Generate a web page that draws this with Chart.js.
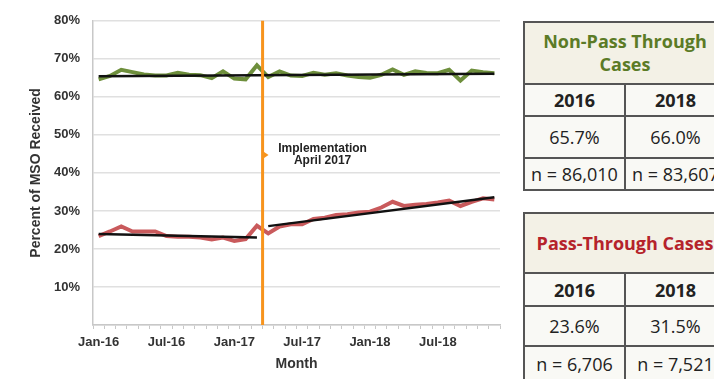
<!DOCTYPE html>
<html>
<head>
<meta charset="utf-8">
<script src="https://cdn.jsdelivr.net/npm/chart.js@4"></script>
<style>
  body { margin: 0; background: #fff; width: 714px; height: 379px; overflow: hidden; position: relative; font-family: "Open Sans", sans-serif; }
  #wrap { position: absolute; left: 0; top: 0; width: 510px; height: 379px; }
  table { position: absolute; left: 523px; border-collapse: collapse; width: 204px; table-layout: fixed; }
  td { border: 2px solid #555; text-align: center; font-size: 18px; color: #222; background: #f9f9f5; padding: 0; }
  td.head { background: #f3f1e6; font-weight: 700; line-height: 23px; }
  td.yr { font-weight: 700; }
  #t1 { top: 21px; }
  #t2 { top: 212px; }
  #t1 .head { color: #5b7b26; height: 60px; }
  #t2 .head { color: #b5232b; height: 58px; }
</style>
</head>
<body>
<div id="wrap"><canvas id="grafico"></canvas></div>

<table id="t1">
  <tr><td class="head" colspan="2">Non-Pass Through<br>Cases</td></tr>
  <tr style="height:32px"><td class="yr">2016</td><td class="yr">2018</td></tr>
  <tr style="height:42px"><td>65.7%</td><td>66.0%</td></tr>
  <tr style="height:32px"><td>n = 86,010</td><td>n = 83,607</td></tr>
</table>

<table id="t2">
  <tr><td class="head" colspan="2">Pass-Through Cases</td></tr>
  <tr style="height:33px"><td class="yr">2016</td><td class="yr">2018</td></tr>
  <tr style="height:40px"><td>23.6%</td><td>31.5%</td></tr>
  <tr style="height:36px"><td>n = 6,706</td><td>n = 7,521</td></tr>
</table>

<script>
const months = [
  "Jan-16", "Feb-16", "Mar-16", "Apr-16", "May-16", "Jun-16", "Jul-16", "Aug-16", "Sep-16", "Oct-16", "Nov-16", "Dec-16",
  "Jan-17", "Feb-17", "Mar-17", "Apr-17", "May-17", "Jun-17", "Jul-17", "Aug-17", "Sep-17", "Oct-17", "Nov-17", "Dec-17",
  "Jan-18", "Feb-18", "Mar-18", "Apr-18", "May-18", "Jun-18", "Jul-18", "Aug-18", "Sep-18", "Oct-18", "Nov-18", "Dec-18",
];
const shownLabels = ["Jan-16", "Jul-16", "Jan-17", "Jul-17", "Jan-18", "Jul-18"];

// non-pass through (green)
const nonPass = [
  64.6, 65.5, 67.1, 66.5, 65.9, 65.6, 65.6, 66.3, 65.8, 65.7, 64.9, 66.7,
  64.8, 64.6, 68.3, 65.2, 66.7, 65.6, 65.5, 66.3, 65.8, 66.2, 65.6, 65.2,
  65.0, 65.8, 67.2, 65.8, 66.7, 66.3, 66.2, 67.1, 64.3, 66.9, 66.5, 66.2,
];
// pass-through (red)
const passThrough = [
  23.4, 24.6, 25.9, 24.6, 24.6, 24.6, 23.4, 23.2, 23.2, 23.0, 22.5, 23.0,
  22.1, 22.6, 26.1, 24.1, 25.9, 26.5, 26.5, 27.9, 28.2, 28.9, 29.1, 29.6,
  29.8, 30.9, 32.4, 31.3, 31.6, 31.8, 32.2, 32.7, 31.3, 32.4, 33.3, 33.0,
];

// trend lines (end points only)
const nonPassTrend = [{ x: "Jan-16", y: 65.4 }, { x: "Dec-18", y: 66.1 }];
const passTrendBefore = [{ x: "Jan-16", y: 23.9 }, { x: "Mar-17", y: 23.0 }];
const passTrendAfter = [{ x: "Apr-17", y: 26.0 }, { x: "Dec-18", y: 33.6 }];

const implLines = ["Implementation", "April 2017"];
const implBefore = "Mar-17";
const implAfter = "Apr-17";
const implLabelY = 44.7;

const implementacao = {
  id: "implementacao",
  afterDatasetsDraw(chart) {
    const { ctx, chartArea, scales } = chart;
    const x = (scales.x.getPixelForValue(months.indexOf(implBefore)) +
      scales.x.getPixelForValue(months.indexOf(implAfter))) / 2;
    const y = scales.y.getPixelForValue(implLabelY);
    ctx.save();
    ctx.strokeStyle = "#f7941d";
    ctx.lineWidth = 3;
    ctx.beginPath();
    ctx.moveTo(x, chartArea.top);
    ctx.lineTo(x, chartArea.bottom);
    ctx.stroke();
    // little arrow
    ctx.fillStyle = "#f7941d";
    ctx.beginPath();
    ctx.moveTo(x, y - 4);
    ctx.lineTo(x + 6, y);
    ctx.lineTo(x, y + 4);
    ctx.closePath();
    ctx.fill();
    ctx.fillStyle = "#222";
    ctx.font = "bold 12px 'Liberation Sans', Arial, sans-serif";
    ctx.textAlign = "center";
    ctx.textBaseline = "middle";
    ctx.fillText(implLines[0], x + 60, y - 6);
    ctx.fillText(implLines[1], x + 60, y + 6);
    ctx.restore();
  },
};

const fonte = { family: "'Liberation Sans', Arial, sans-serif", weight: "bold" };

new Chart(document.getElementById("grafico"), {
  type: "line",
  data: {
    labels: months,
    datasets: [
      { data: nonPassTrend, borderColor: "#111", borderWidth: 2.5, order: 0 },
      { data: passTrendBefore, borderColor: "#111", borderWidth: 2.5, order: 0 },
      { data: passTrendAfter, borderColor: "#111", borderWidth: 2.5, order: 0 },
      { data: nonPass, borderColor: "#6e8f3c", borderWidth: 4, order: 1 },
      { data: passThrough, borderColor: "#c95a5c", borderWidth: 4, order: 1 },
    ],
  },
  options: {
    responsive: true,
    maintainAspectRatio: false,
    animation: false,
    layout: { padding: { left: 24, right: 10, top: 17, bottom: 0 } },
    elements: { point: { radius: 0 }, line: { tension: 0 } },
    plugins: { legend: { display: false }, tooltip: { enabled: false } },
    scales: {
      x: {
        offset: true,
        afterFit: (s) => { s.height = 54; },
        grid: { offset: true, drawOnChartArea: false, tickLength: 4, tickColor: "#c8c8c8" },
        border: { color: "#c8c8c8", width: 1.5 },
        ticks: {
          autoSkip: false,
          maxRotation: 0,
          padding: 6,
          color: "#333",
          font: { ...fonte, size: 13 },
          callback: (v, i) => (shownLabels.includes(months[i]) ? months[i] : ""),
        },
        title: { display: true, text: "Month", color: "#333", font: { ...fonte, size: 14 }, padding: { top: 2, bottom: 6 } },
      },
      y: {
        min: 0,
        max: 80,
        afterFit: (s) => { s.width = 69; },
        grid: { color: "#e0e0e0", lineWidth: 1.5, drawTicks: false },
        border: { color: "#c8c8c8", width: 1.5 },
        ticks: {
          stepSize: 10,
          padding: 13,
          color: "#333",
          font: { ...fonte, size: 13 },
          callback: (v) => (v === 0 ? "" : v + "%"),
        },
        title: { display: true, text: "Percent of MSO Received", color: "#333", font: { ...fonte, size: 14 }, padding: { top: 4, bottom: 4 } },
      },
    },
  },
  plugins: [implementacao],
});
</script>
</body>
</html>
